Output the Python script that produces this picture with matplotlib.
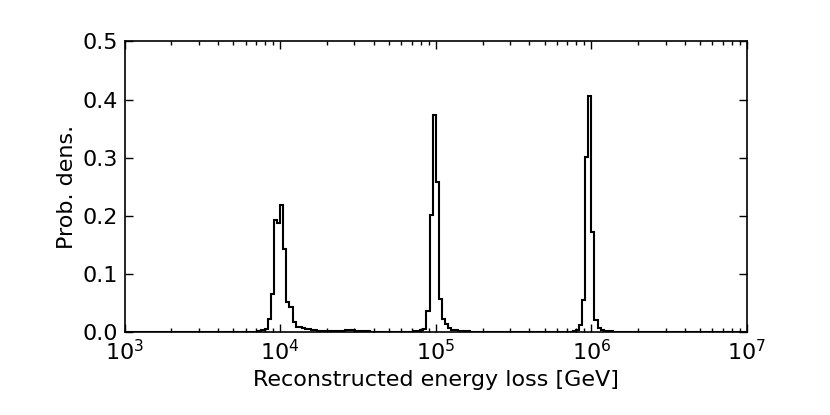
import numpy as np
import matplotlib
matplotlib.use("Agg")
from matplotlib import pyplot as plt
from matplotlib.ticker import LogLocator, MultipleLocator, FormatStrFormatter

plt.rcParams['font.family'] = ['DejaVu Sans']
plt.rcParams['mathtext.fontset'] = 'dejavusans'
plt.rcParams['font.size'] = 16

# bins: 0.02 decades wide, log10(E) from 3 to 7
bin_step = 0.02
log_lo, log_hi = 3.0, 7.0

# per-bin probabilities, each block starts at the given log10(E)
peak1_start = 3.86
peak1 = [0.002, 0.004, 0.006, 0.023, 0.066, 0.192, 0.188, 0.218, 0.1435, 0.052,
         0.043, 0.017, 0.009, 0.008, 0.007, 0.006, 0.005, 0.003, 0.003, 0.002,
         0.002, 0.002, 0.002, 0.002, 0.001, 0.002, 0.002, 0.002, 0.003, 0.004,
         0.003, 0.002, 0.001, 0.001, 0.001, 0.001]
peak2_start = 4.86
peak2 = [0.001, 0.002, 0.003, 0.006, 0.036, 0.202, 0.373, 0.258, 0.056, 0.023,
         0.013, 0.007, 0.004, 0.003, 0.002, 0.002, 0.001, 0.001]
peak3_start = 5.88
peak3 = [0.001, 0.003, 0.0115, 0.0546, 0.301, 0.407, 0.172, 0.020, 0.007, 0.003,
         0.002, 0.001, 0.001]

log_edges = np.round(np.arange(log_lo, log_hi + bin_step / 2, bin_step), 4)
edges = 10 ** log_edges
prob = np.zeros(len(edges) - 1)
for start, vals in [(peak1_start, peak1), (peak2_start, peak2), (peak3_start, peak3)]:
    i0 = int(round((start - log_lo) / bin_step))
    prob[i0:i0 + len(vals)] += vals

fig = plt.figure(figsize=(8.3, 4.15), dpi=100)
ax = fig.add_subplot(111)
fig.subplots_adjust(left=0.15, right=0.9, bottom=0.2, top=0.9)

ax.hist(edges[:-1], bins=edges, weights=prob, histtype='step', color='black', linewidth=1.5)

ax.set_xscale('log')
ax.set_xlim(1e3, 1e7)
ax.set_ylim(0, 0.5)
ax.yaxis.set_major_locator(MultipleLocator(0.1))
ax.yaxis.set_major_formatter(FormatStrFormatter('%.1f'))
ax.xaxis.set_major_locator(LogLocator(base=10, numticks=10))
ax.xaxis.set_minor_locator(LogLocator(base=10, subs=np.arange(2, 10), numticks=10))

ax.tick_params(which='both', direction='in', top=True, right=True, width=1)
ax.tick_params(which='major', length=6, pad=5)
ax.tick_params(which='minor', length=3)
for sp in ax.spines.values():
    sp.set_linewidth(1.2)

ax.set_xlabel('Reconstructed energy loss [GeV]')
ax.set_ylabel('Prob. dens.')

fig.savefig('out.png', dpi=100)
plt.close()
